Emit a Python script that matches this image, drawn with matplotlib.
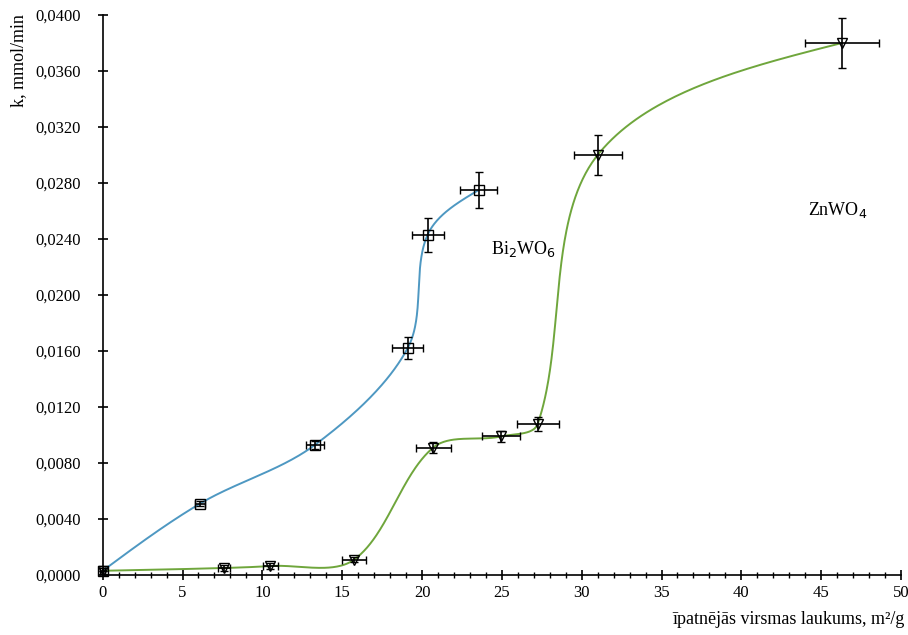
import numpy as np
import matplotlib
matplotlib.use("Agg")
import matplotlib.pyplot as plt
from matplotlib.ticker import MultipleLocator, FuncFormatter

plt.rcParams['font.family'] = ['Liberation Serif', 'DejaVu Serif']

# Bi2WO6 data
bi_x = [0.0, 6.1, 13.3, 19.1, 20.35, 23.55]
bi_y = [0.0003, 0.0051, 0.0093, 0.0162, 0.0243, 0.0275]
bi_xerr = [0.15, 0.3, 0.55, 0.95, 1.0, 1.15]
bi_yerr = [0.0002, 0.0002, 0.0003, 0.0008, 0.0012, 0.0013]

# ZnWO4 data
zn_x = [0.0, 7.6, 10.5, 15.75, 20.7, 24.95, 27.25, 31.0, 46.3]
zn_y = [0.0003, 0.0005, 0.00064, 0.0011, 0.0091, 0.0099, 0.0108, 0.0300, 0.0380]
zn_xerr = [0.0, 0.35, 0.47, 0.76, 1.1, 1.2, 1.3, 1.5, 2.3]
zn_yerr = [0.0, 0.0002, 0.0002, 0.0002, 0.0004, 0.0004, 0.0005, 0.0014, 0.0018]


def smooth(xs, ys, n=80, xscale=16.0, yscale=14000.0):
    # spreadsheet-style smoothed line (Bezier with length-weighted tangents)
    P = np.column_stack([np.array(xs) * xscale, np.array(ys) * yscale])
    m = len(P)
    before = P.copy()
    after = P.copy()
    for i in range(1, m - 1):
        d = P[i + 1] - P[i - 1]
        lp = np.linalg.norm(P[i] - P[i - 1])
        ln = np.linalg.norm(P[i + 1] - P[i])
        before[i] = P[i] - d * lp / (lp + ln) / 3.0
        after[i] = P[i] + d * ln / (lp + ln) / 3.0
    after[0] = P[0] + (before[1] - P[0]) / 2.0 if m > 2 else P[0]
    before[-1] = P[-1] + (after[-2] - P[-1]) / 2.0 if m > 2 else P[-1]
    out = []
    t = np.linspace(0, 1, n)[:, None]
    for i in range(m - 1):
        p1, c1, c2, p2 = P[i], after[i], before[i + 1], P[i + 1]
        seg = ((1 - t) ** 3) * p1 + 3 * ((1 - t) ** 2) * t * c1 + 3 * (1 - t) * t ** 2 * c2 + t ** 3 * p2
        out.append(seg if i == 0 else seg[1:])
    S = np.vstack(out)
    return S[:, 0] / xscale, S[:, 1] / yscale


fig = plt.figure(figsize=(9.08, 6.35), dpi=100)
ax = fig.add_axes([0.1131, 0.0945, 0.8792, 0.8819])

bx, by = smooth(bi_x, bi_y)
zx, zy = smooth(zn_x, zn_y)
ax.plot(bx, by, color='#4e98c2', lw=1.4, zorder=2)
ax.plot(zx, zy, color='#6fa63c', lw=1.4, zorder=2)

for xs, ys, xe, ye, mk in [(bi_x, bi_y, bi_xerr, bi_yerr, 's'),
                           (zn_x, zn_y, zn_xerr, zn_yerr, 'v')]:
    cont = ax.errorbar(xs, ys, xerr=xe, yerr=ye, fmt=mk, ms=6.5, mfc='none',
                       mec='black', mew=1.0, ecolor='black', elinewidth=1.2,
                       capsize=3, capthick=1.2, zorder=3)
    arts = [cont.lines[0]] + list(cont.lines[1]) + list(cont.lines[2])
    for art in arts:
        art.set_clip_on(False)

ax.set_xlim(0, 50)
ax.set_ylim(0, 0.04)
ax.xaxis.set_major_locator(MultipleLocator(5))
ax.xaxis.set_minor_locator(MultipleLocator(1))
ax.yaxis.set_major_locator(MultipleLocator(0.004))
ax.yaxis.set_major_formatter(FuncFormatter(lambda v, p: f"{v:.4f}".replace('.', ',')))
ax.xaxis.set_major_formatter(FuncFormatter(lambda v, p: f"{v:.0f}"))

for s in ['top', 'right']:
    ax.spines[s].set_visible(False)
for s in ['left', 'bottom']:
    ax.spines[s].set_linewidth(1.2)

ax.tick_params(axis='both', which='major', direction='inout', length=7, width=1.2,
               labelsize=12, pad=4)
ax.tick_params(axis='x', which='minor', direction='inout', length=5, width=1.0)
ax.tick_params(axis='y', which='major', pad=12)

ax.text(24.3, 0.0233, 'Bi$_2$WO$_6$', fontsize=13, ha='left', va='center')
ax.text(44.2, 0.0261, 'ZnWO$_4$', fontsize=13, ha='left', va='center')

fig.text(0.021, 0.905, 'k, mmol/min', rotation=90, fontsize=13, ha='center', va='center')
fig.text(0.996, 0.024, 'īpatnējās virsmas laukums, m²/g', fontsize=13, ha='right', va='center')

fig.savefig('out.png', dpi=100)
